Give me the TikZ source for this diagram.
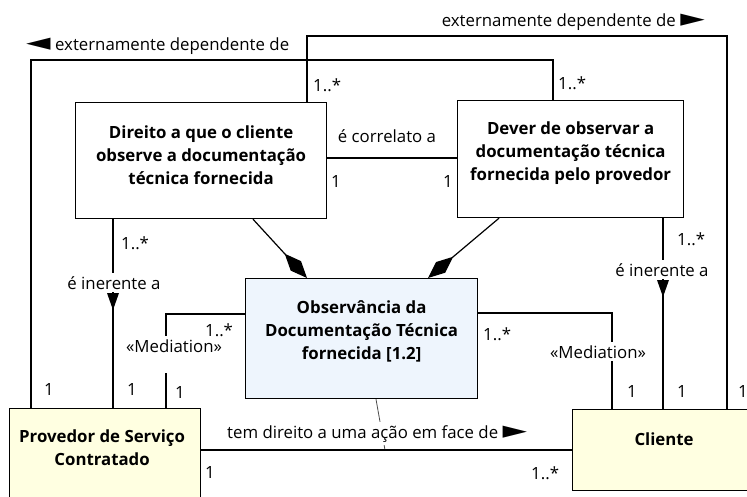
\documentclass[tikz,border=0pt]{standalone}
\usepackage{fontspec}
\setmainfont{Open Sans}
\newfontfamily\symf{DejaVu Sans}
\usetikzlibrary{arrows.meta}
\definecolor{relfill}{RGB}{238,245,253}
\definecolor{kindfill}{RGB}{255,255,225}
\newcommand{\rtri}{\scalebox{1.9}[1.45]{\symf ►}}
\newcommand{\ltri}{\scalebox{1.9}[1.45]{\symf ◄}}
\begin{document}
\begin{tikzpicture}[x=1pt,y=-1pt,
  box/.style={draw, line width=1.2pt, anchor=north west, inner sep=0pt},
  ttl/.style={font=\fontsize{16.8}{23}\selectfont\bfseries, align=center, inner sep=0pt},
  lbl/.style={font=\fontsize{16.8}{19}\selectfont, inner sep=1pt},
  gap/.style={lbl, fill=white, inner sep=3pt, anchor=base},
  mult/.style={lbl, anchor=base west, inner sep=0pt},
  conn/.style={line width=1.2pt},
  comp/.style={conn, -{Diamond[length=33pt,width=14pt]}},
  rdir/.style={fill=black},
]
\clip (0,0) rectangle (747,496);
\useasboundingbox (0,0) rectangle (747,496);

% boxes
\node[box, fill=white, minimum width=251pt, minimum height=116pt,
  label={[ttl, yshift=5pt]center:Direito a que o cliente\\observe a documentação\\técnica fornecida}] (A) at (75,102) {};
\node[box, fill=white, minimum width=226pt, minimum height=117pt,
  label={[ttl, yshift=6pt]center:Dever de observar a\\documentação técnica\\fornecida pelo provedor}] (B) at (457,100) {};
\node[box, fill=relfill, minimum width=232pt, minimum height=120pt,
  label={[ttl, yshift=7pt]center:Observância da\\Documentação Técnica\\fornecida [1.2]}] (C) at (245,278) {};
\node[box, fill=kindfill, minimum width=191pt, minimum height=120pt,
  label={[ttl, yshift=21pt, xshift=-3pt]center:Provedor de Serviço\\Contratado}] (D) at (9,408) {};
\node[box, fill=kindfill, minimum width=183pt, minimum height=81pt,
  label={[ttl, yshift=11pt]center:Cliente}] (E) at (572,409) {};

% externally dependent (left)
\draw[conn] (31,0 |- D.north) |- (553,60) -- (553,0 |- B.north);
\node[lbl, anchor=base west] (l1) at (25,50) {\ltri\ externamente dependente de};
\node[mult] (m1) at (558,89) {1..*};
\node[mult] (m2) at (44,395) {1};

% externally dependent (right)
\draw[conn] (727,0 |- E.north) |- (307,36) -- (307,0 |- A.north);
\node[lbl, anchor=base east] (l2) at (706,26) {externamente dependente de \rtri};
\node[mult] (m3) at (313,91) {1..*};
\node[mult] (m4) at (738,397) {1};

% correlato
\draw[conn] (A.east |- 0,158) -- (B.west |- 0,158);
\node[lbl, anchor=base] (l3) at (387,142) {é correlato a};
\node[mult] (m5) at (331,187) {1};
\node[mult] (m6) at (443,187) {1};

% compositions
\draw[comp] (253,0 |- A.south) -- (307,0 |- C.north);
\draw[comp] (499,0 |- B.south) -- (428,0 |- C.north);

% inherence left
\draw[conn] (113,0 |- A.south) -- (113,0 |- D.north);
\node[gap] (l4) at (114,289) {é inerente a};
\fill[rdir] (107,293) -- (119,293) -- (113,310) -- cycle;
\node[mult] (m7) at (121,249) {1..*};
\node[mult] (m8) at (127,395) {1};

% inherence right
\draw[conn] (663,0 |- B.south) -- (663,0 |- E.north);
\node[gap] (l5) at (662,276) {é inerente a};
\fill[rdir] (657,280) -- (669,280) -- (663,297) -- cycle;
\node[mult] (m9) at (677,245) {1..*};
\node[mult] (m10) at (677,397) {1};

% mediation left
\draw[conn] (C.west |- 0,314) -| (166,0 |- D.north);
\node[gap, text depth=18pt] (l6) at (174,352) {«Mediation»};
\node[mult] (m11) at (205,336) {1..*};
\node[mult] (m12) at (175,398) {1};

% mediation right
\draw[conn] (C.east |- 0,313) -| (612,0 |- E.north);
\node[gap] (l7) at (598,358) {«Mediation»};
\node[mult] (m13) at (483,340) {1..*};
\node[mult] (m14) at (627,397) {1};

% material relation
\coordinate (mid) at (385,450);
\draw[line width=0.8pt, black!70] (376,0 |- C.south) -- (mid);
\node[gap, anchor=base west] (l8) at (224,438) {tem direito a uma ação em face de \rtri};
\draw[conn] (D.east |- 0,450) -- (E.west |- 0,450);
\node[mult] (m15) at (205,478) {1};
\node[mult] (m16) at (531,479) {1..*};
\end{tikzpicture}
\end{document}
